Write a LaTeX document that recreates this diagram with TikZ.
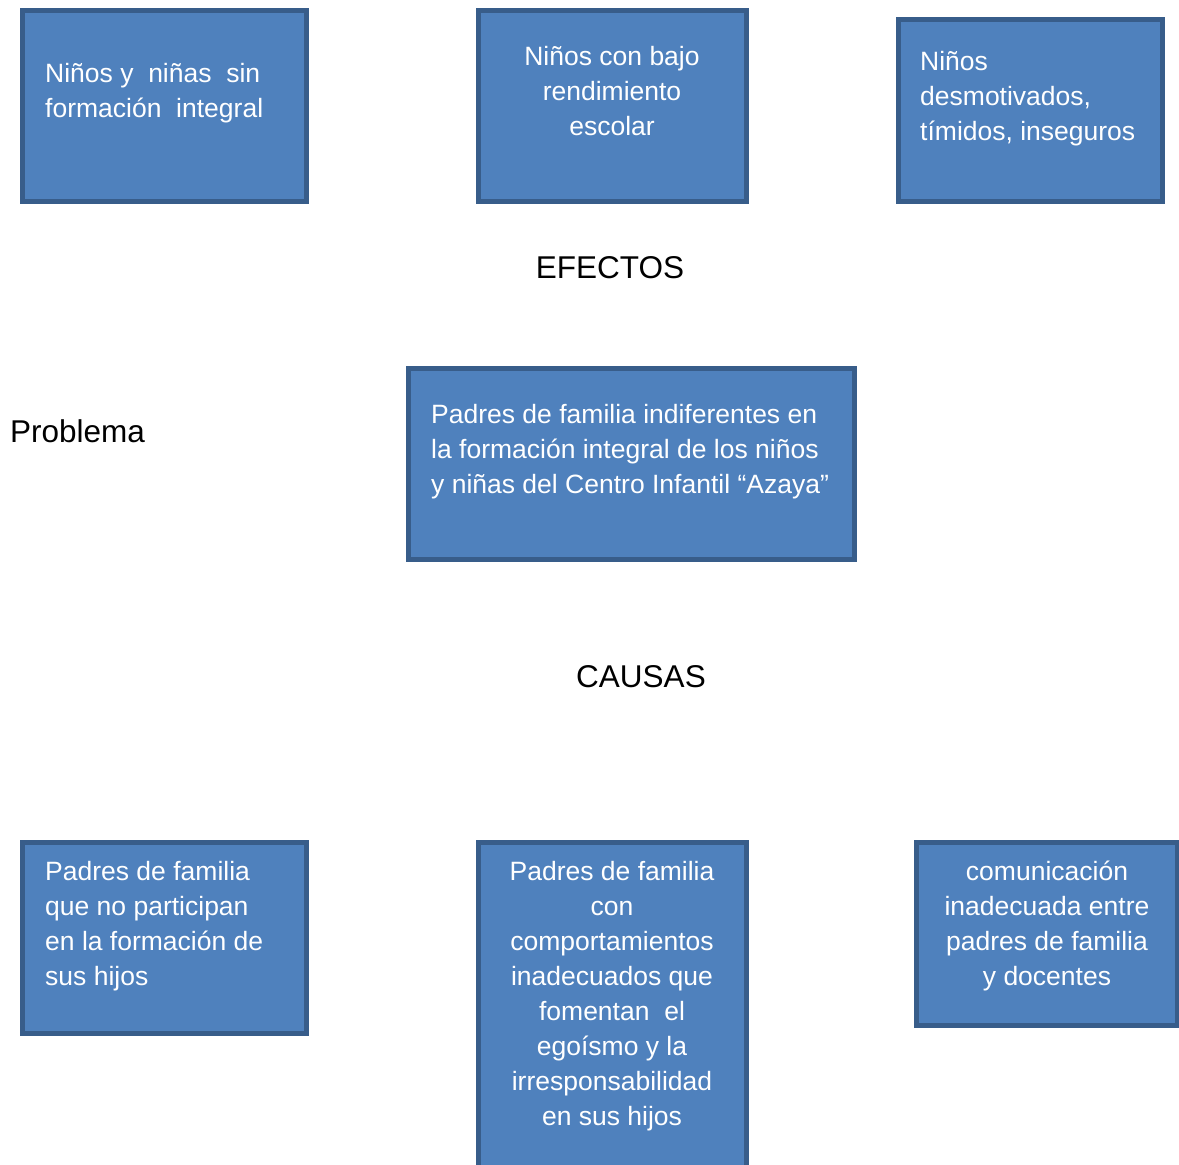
\documentclass[tikz,border=0pt]{standalone}
\usepackage{fontspec}
\setmainfont{Liberation Sans}
\definecolor{boxfill}{HTML}{4F81BD}
\definecolor{boxline}{HTML}{385D8A}
\begin{document}
\begin{tikzpicture}[x=1pt,y=-1pt,
  box/.style={draw=boxline,fill=boxfill,line width=4.5pt,inner sep=0pt,outer sep=0pt,rectangle},
  boxtext/.style={text=white,inner sep=0pt,font=\fontsize{26.5}{35}\selectfont},
  lbl/.style={text=black,inner sep=0pt,font=\fontsize{31.5}{38}\selectfont}]
\useasboundingbox (0,0) rectangle (1179,1165);
\clip (0,0) rectangle (1179,1165);
% boxes
\node[box,minimum width=284pt,minimum height=191pt] (e1) at (164.5,106) {};
\node[box,minimum width=268pt,minimum height=191pt] (e2) at (612.5,106) {};
\node[box,minimum width=264pt,minimum height=182pt] (e3) at (1030.5,110.5) {};
\node[box,minimum width=446pt,minimum height=191pt] (p) at (631.5,464) {};
\node[box,minimum width=284pt,minimum height=191pt] (c1) at (164.5,938) {};
\node[box,minimum width=268pt,minimum height=330pt] (c2) at (612.5,1007.5) {};
\node[box,minimum width=261pt,minimum height=183pt] (c3) at (1047,934) {};
% texts (anchor base = baseline of last line)
\node[boxtext,align=left,anchor=base west] (te1) at (45,117) {Niños y\ \ niñas\ \ sin\\formación\ \ integral};
\node[boxtext,align=center,anchor=base] (te2) at (612,135) {Niños con bajo\\rendimiento\\escolar};
\node[boxtext,align=left,anchor=base west] (te3) at (920,140) {Niños\\desmotivados,\\tímidos, inseguros};
\node[boxtext,align=left,anchor=base west] (tp) at (431,493) {Padres de familia indiferentes en\\la formación integral de los niños\\y niñas del Centro Infantil “Azaya”};
\node[boxtext,align=left,anchor=base west] (tc1) at (45,985) {Padres de familia\\que no participan\\en la formación de\\sus hijos};
\node[boxtext,align=center,anchor=base] (tc2) at (612,1125) {Padres de familia\\con\\comportamientos\\inadecuados que\\fomentan\ \ el\\egoísmo y la\\irresponsabilidad\\en sus hijos};
\node[boxtext,align=center,anchor=base] (tc3) at (1047,985) {comunicación\\inadecuada entre\\padres de familia\\y docentes};
% labels
\node[lbl,anchor=base] (efectos) at (610,278) {EFECTOS};
\node[lbl,anchor=base west] (problema) at (10,442) {Problema};
\node[lbl,anchor=base] (causas) at (641,687) {CAUSAS};
\end{tikzpicture}
\end{document}
